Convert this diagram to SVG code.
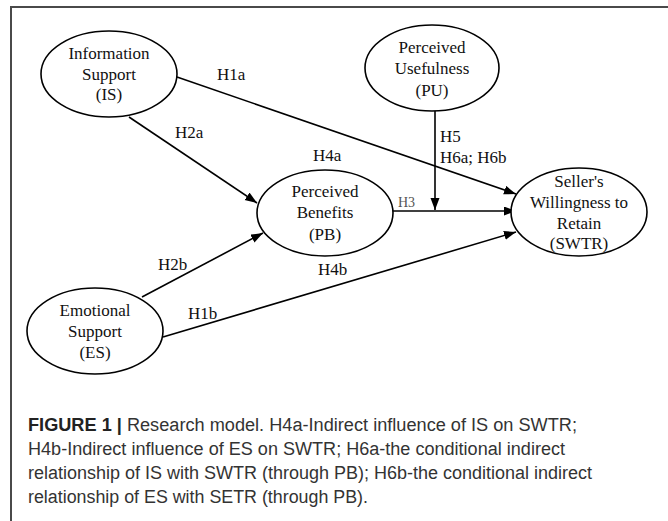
<svg xmlns="http://www.w3.org/2000/svg" width="668" height="521" viewBox="0 0 668 521">
<style>
.frame{stroke:#4a4a4a;stroke-width:2;fill:none}
.node{fill:#fff;stroke:#000;stroke-width:1.6}
.nt{font-family:"Liberation Serif","Times New Roman",serif;font-size:17px;fill:#111;text-anchor:middle}
.lbl{font-family:"Liberation Serif","Times New Roman",serif;font-size:17px;fill:#111}
.lbl3{font-family:"Liberation Serif","Times New Roman",serif;font-size:14px;fill:#555}
.edge{stroke:#000;stroke-width:1.6;fill:none}
.cap{font-family:"Liberation Sans",Arial,sans-serif;font-size:18px;fill:#333}
</style>
<defs>
<marker id="arr" markerUnits="userSpaceOnUse" markerWidth="13" markerHeight="10" refX="12" refY="4.5" orient="auto">
<path d="M0,0 L12,4.5 L0,9 z" fill="#000"/>
</marker>
</defs>
<rect width="668" height="521" fill="#fff"/>
<path class="frame" d="M11,521 V7 H668"/>
<g id="connectors">
<line class="edge" x1="177" y1="77" x2="516" y2="194" marker-end="url(#arr)"/>
<line class="edge" x1="129" y1="117" x2="257" y2="203" marker-end="url(#arr)"/>
<line class="edge" x1="142" y1="297" x2="263" y2="233" marker-end="url(#arr)"/>
<line class="edge" x1="163" y1="337" x2="516" y2="232" marker-end="url(#arr)"/>
<line class="edge" x1="393" y1="211" x2="516" y2="211" marker-end="url(#arr)"/>
<line class="edge" x1="435" y1="111" x2="435" y2="210" marker-end="url(#arr)"/>
<text class="lbl" x="217" y="80">H1a</text>
<text class="lbl" x="175" y="138">H2a</text>
<text class="lbl" x="313" y="161">H4a</text>
<text class="lbl3" x="398" y="207">H3</text>
<text class="lbl" x="440" y="142">H5</text>
<text class="lbl" x="440" y="163">H6a; H6b</text>
<text class="lbl" x="158" y="270">H2b</text>
<text class="lbl" x="318" y="275">H4b</text>
<text class="lbl" x="188" y="319">H1b</text>
</g>
<g id="IS">
<ellipse class="node" cx="109" cy="74" rx="68" ry="43"/>
<text class="nt" x="109" y="59">Information</text>
<text class="nt" x="109" y="80">Support</text>
<text class="nt" x="109" y="100">(IS)</text>
</g>
<g id="PU">
<ellipse class="node" cx="432" cy="68" rx="67" ry="43"/>
<text class="nt" x="432" y="53">Perceived</text>
<text class="nt" x="432" y="74">Usefulness</text>
<text class="nt" x="432" y="96">(PU)</text>
</g>
<g id="PB">
<ellipse class="node" cx="325" cy="213" rx="68" ry="43"/>
<text class="nt" x="325" y="197">Perceived</text>
<text class="nt" x="325" y="218">Benefits</text>
<text class="nt" x="325" y="240">(PB)</text>
</g>
<g id="SWTR">
<ellipse class="node" cx="579" cy="212" rx="68" ry="44"/>
<text class="nt" x="579" y="187">Seller's</text>
<text class="nt" x="579" y="208">Willingness to</text>
<text class="nt" x="579" y="229">Retain</text>
<text class="nt" x="579" y="249">(SWTR)</text>
</g>
<g id="ES">
<ellipse class="node" cx="95" cy="331" rx="68" ry="43"/>
<text class="nt" x="95" y="316">Emotional</text>
<text class="nt" x="95" y="337">Support</text>
<text class="nt" x="95" y="358">(ES)</text>
</g>
<g id="caption">
<text class="cap" x="28" y="431" textLength="549" lengthAdjust="spacingAndGlyphs"><tspan font-weight="bold" fill="#222">FIGURE 1 |</tspan> Research model. H4a-Indirect influence of IS on SWTR;</text>
<text class="cap" x="28" y="455" textLength="537" lengthAdjust="spacingAndGlyphs">H4b-Indirect influence of ES on SWTR; H6a-the conditional indirect</text>
<text class="cap" x="28" y="479" textLength="564" lengthAdjust="spacingAndGlyphs">relationship of IS with SWTR (through PB); H6b-the conditional indirect</text>
<text class="cap" x="28" y="503" textLength="340" lengthAdjust="spacingAndGlyphs">relationship of ES with SETR (through PB).</text>
</g>
</svg>
